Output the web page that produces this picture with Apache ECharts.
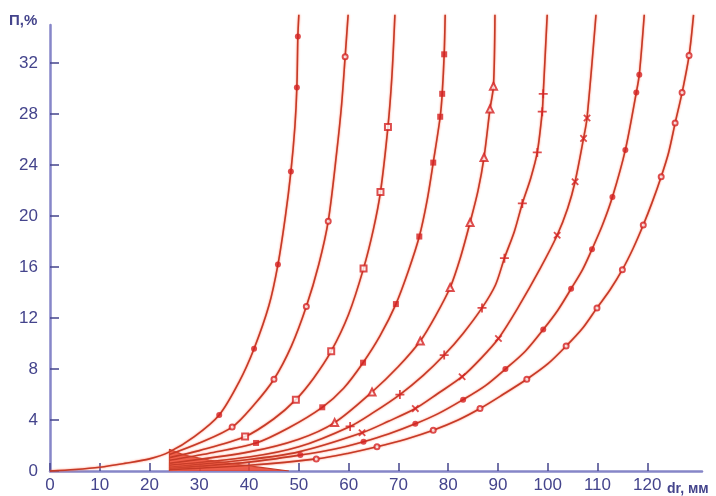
<!DOCTYPE html>
<html>
<head>
<meta charset="utf-8">
<script src="https://cdn.jsdelivr.net/npm/echarts@6/dist/echarts.min.js"></script>
<style>
html, body { margin: 0; padding: 0; background: #fff; }
#main { width: 716px; height: 496px; }
</style>
</head>
<body>
<div id="main"></div>
<script>
// tick labels
var xTicks = [0, 10, 20, 30, 40, 50, 60, 70, 80, 90, 100, 110, 120];
var yTicks = [0, 4, 8, 12, 16, 20, 24, 28, 32];

// points along each curve (dr, П)
var line1 = [[0, 0], [5, 0.12], [10, 0.3], [15, 0.6], [20, 0.95], [24, 1.5], [29, 2.7], [38, 7], [44, 13], [47.3, 20], [49.2, 27], [50, 35.8]];
var line2 = [[24, 1.3], [30, 2.2], [41, 5.2], [48.5, 9.8], [54, 16.2], [57.6, 25], [58.6, 28.8], [59.9, 35.8]];
var line3 = [[24, 1.05], [30, 1.6], [45, 4.1], [53, 7.3], [60, 12.3], [65, 19], [68.7, 31], [69.3, 35.8]];
var line4 = [[24, 0.85], [32, 1.4], [48, 3.4], [59, 6.5], [66.3, 10.6], [72, 15.7], [75.8, 21.3], [79.4, 35.8]];
var line5 = [[24, 0.6], [40, 1.5], [50, 2.5], [70, 8.2], [77.5, 12.2], [82.5, 16.8], [86, 22], [89.4, 35.8]];
var line6 = [[24, 0.45], [40, 1.1], [50, 1.9], [65, 4.6], [75, 7.5], [83, 10.8], [89.5, 14.6], [93.3, 18.8], [96.6, 23], [99.9, 35.8]];
var line7 = [[24, 0.3], [40, 0.9], [50, 1.5], [68, 3.9], [78, 6.1], [86.5, 8.8], [94, 12.8], [98.5, 15.9], [104, 20.6], [109.7, 35.8]];
var line8 = [[24, 0.2], [40, 0.7], [57, 1.7], [68, 2.9], [78, 4.5], [87.5, 6.7], [95.5, 9.4], [102, 12.6], [107, 15.8], [111, 19.3], [119.4, 35.8]];
var line9 = [[24, 0.1], [40, 0.45], [60, 1.4], [71.5, 2.5], [82, 4.0], [91, 6.0], [100, 8.4], [107, 11.2], [112.5, 14.2], [117.2, 17.5], [121, 21.1], [124.3, 25], [129.3, 35.8]];

// measured points (markers)
var marks1 = [[34, 4.4], [41, 9.6], [45.8, 16.2], [48.4, 23.5], [49.6, 30.1], [49.8, 34.1]];
var marks2 = [[36.6, 3.45], [45, 7.2], [51.5, 12.9], [55.9, 19.6], [59.3, 32.5]];
var marks3 = [[39.2, 2.7], [49.4, 5.6], [56.5, 9.4], [63, 15.9], [66.4, 21.9], [67.9, 27]];
var marks4 = [[41.4, 2.2], [54.7, 5.0], [62.9, 8.5], [69.5, 13.1], [74.2, 18.4], [77, 24.2], [78.4, 27.8], [78.8, 29.6], [79.2, 32.7]];
var marks5 = [[57.2, 3.8], [64.7, 6.2], [74.4, 10.2], [80.4, 14.4], [84.4, 19.5], [87.2, 24.6], [88.4, 28.4], [89.1, 30.2]];
var marks6 = [[60.3, 3.5], [70.3, 6.0], [79.2, 9.1], [86.8, 12.8], [91.3, 16.7], [94.9, 21], [97.9, 25], [98.9, 28.2], [99.1, 29.6]];
var marks7 = [[62.7, 3.0], [73.4, 4.9], [82.8, 7.4], [90.1, 10.4], [101.9, 18.5], [105.5, 22.7], [107.2, 26.1], [107.9, 27.7]];
var marks8 = [[50.3, 1.25], [63, 2.3], [73.4, 3.7], [83, 5.6], [91.5, 8.0], [99.1, 11.1], [104.7, 14.3], [108.9, 17.4], [113, 21.5], [115.6, 25.2], [117.8, 29.7], [118.4, 31.1]];
var marks9 = [[53.5, 0.95], [65.7, 1.9], [77, 3.2], [86.4, 4.9], [95.8, 7.2], [103.7, 9.8], [109.9, 12.8], [115, 15.8], [119.2, 19.3], [122.8, 23.1], [125.6, 27.3], [127, 29.7], [128.4, 32.6]];

// dense bundle of curves just after dr = 24
var shade = [[24, 0], [24, 1.7], [27, 1.25], [32, 0.85], [37, 0.55], [42, 0.3], [48, 0]];

var plusPath = 'path://M4,0H6V4H10V6H6V10H4V6H0V4H4Z';
var curves = [
	{ line: line1, marks: marks1, symbol: 'circle', size: 6 },
	{ line: line2, marks: marks2, symbol: 'emptyCircle', size: 5 },
	{ line: line3, marks: marks3, symbol: 'emptyRect', size: 6 },
	{ line: line4, marks: marks4, symbol: 'rect', size: 6 },
	{ line: line5, marks: marks5, symbol: 'emptyTriangle', size: 7 },
	{ line: line6, marks: marks6, symbol: plusPath, size: 9 },
	{ line: line7, marks: marks7, symbol: plusPath, size: 9, rotate: 45 },
	{ line: line8, marks: marks8, symbol: 'circle', size: 6 },
	{ line: line9, marks: marks9, symbol: 'emptyCircle', size: 5 }
];

var lineColor = '#c53a27';
var markColor = '#d42222';
var axisColor = '#8686c8';
var textColor = '#44448c';

var series = [];
series.push({
	type: 'line',
	data: shade,
	symbol: 'none',
	lineStyle: { color: lineColor, width: 1.2 },
	areaStyle: { color: '#e8402c', opacity: 0.85 },
	silent: true,
	z: 1
});
for (var i = 0; i < curves.length; i++) {
	var c = curves[i];
	var pts = c.line.concat(c.marks).sort(function (a, b) { return a[0] - b[0]; });
	series.push({
		type: 'line',
		data: pts,
		smooth: 0.3,
		symbol: 'none',
		clip: false,
		lineStyle: {
			color: lineColor,
			width: 1.6,
			shadowColor: 'rgba(255,110,80,0.9)',
			shadowBlur: 2
		},
		z: 2
	});
	series.push({
		type: 'scatter',
		data: c.marks,
		symbol: c.symbol,
		symbolSize: c.size,
		symbolRotate: c.rotate || 0,
		itemStyle: { color: markColor },
		z: 3
	});
}

var myChart = echarts.init(document.getElementById('main'));
var option = {
	backgroundColor: '#ffffff',
	animation: false,
	title: [{
		text: 'П,%',
		left: 4,
		top: 8,
		textStyle: { color: textColor, fontSize: 15, fontWeight: 'bold', fontFamily: 'Liberation Sans' }
	}, {
		text: 'dr, мм',
		left: 662,
		top: 477,
		textStyle: { color: textColor, fontSize: 14, fontWeight: 'bold', fontFamily: 'Liberation Sans' }
	}],
	grid: { left: 50, right: 14, top: 25, bottom: 25 },
	xAxis: {
		type: 'value',
		min: 0,
		max: 131,
		splitLine: { show: false },
		axisLine: { lineStyle: { color: axisColor, width: 2.5 } },
		axisTick: { inside: true, length: 8, customValues: xTicks, lineStyle: { color: textColor, width: 1.5 } },
		axisLabel: {
			customValues: xTicks,
			color: textColor,
			fontSize: 17,
			fontFamily: 'Liberation Sans',
			margin: 6
		}
	},
	yAxis: {
		type: 'value',
		min: 0,
		max: 35,
		splitLine: { show: false },
		axisLine: { lineStyle: { color: axisColor, width: 2.5 } },
		axisTick: { inside: true, length: 9, customValues: yTicks, lineStyle: { color: textColor, width: 1.5 } },
		axisLabel: {
			customValues: yTicks,
			color: textColor,
			fontSize: 17,
			fontFamily: 'Liberation Sans',
			margin: 12
		}
	},
	series: series
};
myChart.setOption(option);
</script>
</body>
</html>
